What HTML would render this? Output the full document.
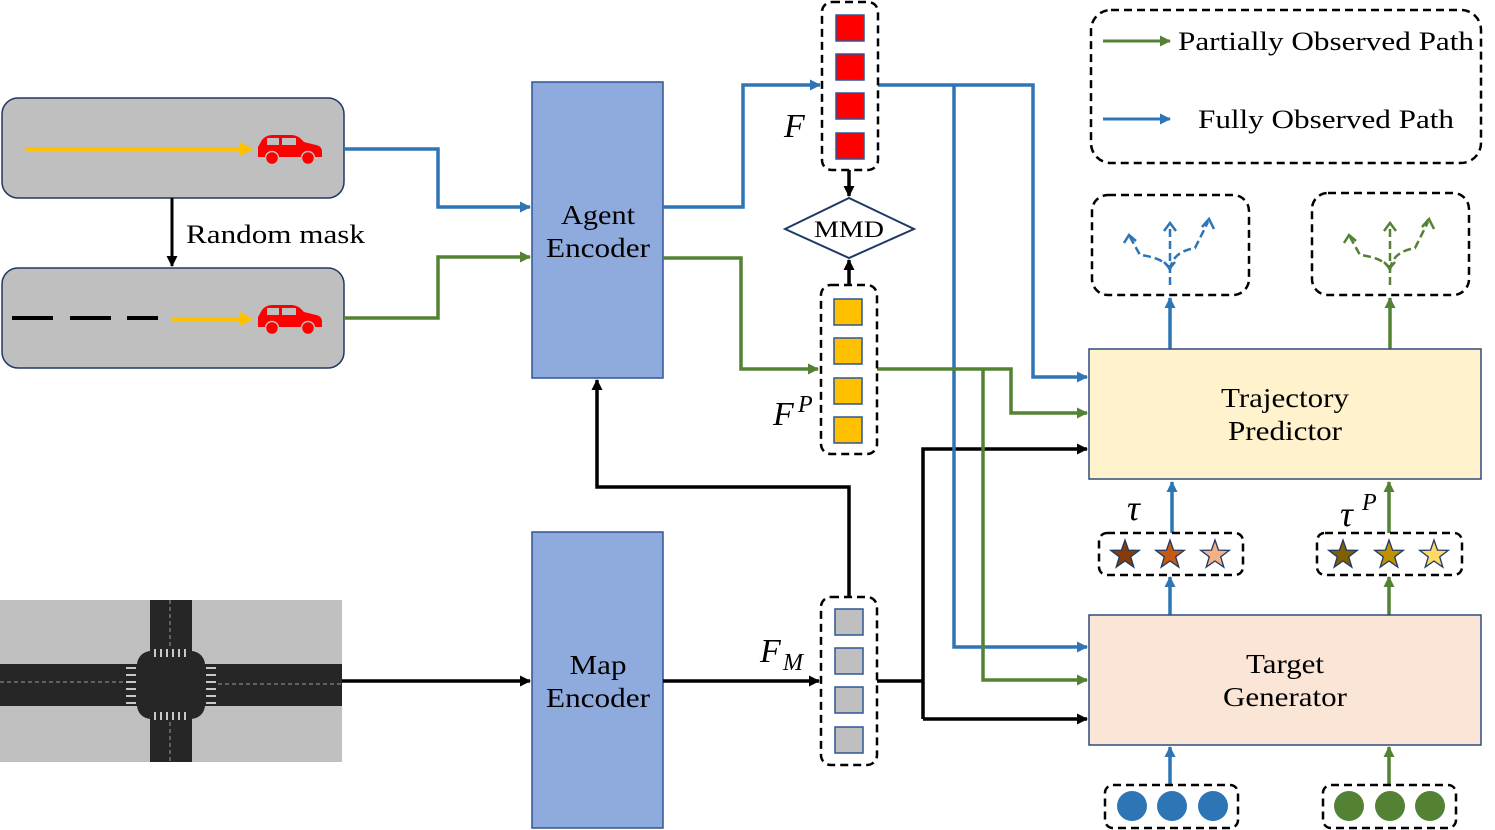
<!DOCTYPE html>
<html><head><meta charset="utf-8"><style>
html,body{margin:0;padding:0;background:#fff;}
svg{display:block;}
text{font-family:"Liberation Serif",serif;fill:#000;}
</style></head><body>
<svg width="1495" height="830" viewBox="0 0 1495 830" xmlns="http://www.w3.org/2000/svg">
<defs>
<marker id="ab" markerWidth="11" markerHeight="11" refX="10" refY="5.5" orient="auto" markerUnits="userSpaceOnUse"><path d="M0,0 L11,5.5 L0,11 z" fill="#2e75b6"/></marker>
<marker id="ag" markerWidth="11" markerHeight="11" refX="10" refY="5.5" orient="auto" markerUnits="userSpaceOnUse"><path d="M0,0 L11,5.5 L0,11 z" fill="#548235"/></marker>
<marker id="ak" markerWidth="11" markerHeight="11" refX="10" refY="5.5" orient="auto" markerUnits="userSpaceOnUse"><path d="M0,0 L11,5.5 L0,11 z" fill="#000"/></marker>
<marker id="ay" markerWidth="14" markerHeight="14" refX="12" refY="7" orient="auto" markerUnits="userSpaceOnUse"><path d="M0,0 L13,7 L0,14 z" fill="#ffc000"/></marker>
<polygon id="star" points="0,-15 3.53,-4.85 14.27,-4.64 5.71,1.85 8.82,12.14 0,6 -8.82,12.14 -5.71,1.85 -14.27,-4.64 -3.53,-4.85" stroke="#1f3864" stroke-width="1.3"/>
<g id="car" fill="#ff0000">
<path d="M0,12 L4,5 Q8,0 14,0 L34,0 Q40,0 46,7 L58,10 Q64,11 64,17 L64,22 L0,22 Z"/>
<rect x="9" y="3" width="12" height="7" fill="#bfbfbf"/>
<rect x="24" y="3" width="14" height="7" fill="#bfbfbf"/>
<circle cx="14" cy="23" r="6.5" stroke="#bfbfbf" stroke-width="1.5"/>
<circle cx="50" cy="23" r="6.5" stroke="#bfbfbf" stroke-width="1.5"/>
</g>
</defs>

<rect x="2" y="98" width="342" height="100" rx="16" fill="#bfbfbf" stroke="#1f3864" stroke-width="1.5"/>
<line x1="25" y1="149" x2="252" y2="149" stroke="#ffc000" stroke-width="4" marker-end="url(#ay)"/>
<use href="#car" x="258" y="135"/>
<line x1="172" y1="198" x2="172" y2="266" stroke="#000" stroke-width="3" marker-end="url(#ak)"/>
<text x="186" y="243" font-size="26" textLength="179" lengthAdjust="spacingAndGlyphs">Random mask</text>
<rect x="2" y="268" width="342" height="100" rx="16" fill="#bfbfbf" stroke="#1f3864" stroke-width="1.5"/>
<g stroke="#000" stroke-width="4"><line x1="12" y1="318" x2="53" y2="318"/><line x1="70" y1="318" x2="111" y2="318"/><line x1="127" y1="318" x2="158" y2="318"/></g>
<line x1="172" y1="319" x2="252" y2="319" stroke="#ffc000" stroke-width="4" marker-end="url(#ay)"/>
<use href="#car" x="258" y="305"/>

<rect x="0" y="600" width="342" height="162" fill="#c0c0c0"/>
<rect x="0" y="664" width="342" height="42" fill="#262626"/>
<rect x="150" y="600" width="42" height="162" fill="#262626"/>
<rect x="137" y="651" width="68" height="68" rx="14" fill="#262626"/>
<g stroke="#999" stroke-width="1" stroke-dasharray="4,3"><line x1="0" y1="682" x2="125" y2="682"/><line x1="218" y1="684" x2="342" y2="684"/><line x1="170" y1="600" x2="170" y2="648"/><line x1="170" y1="722" x2="170" y2="762"/></g>
<g stroke="#fff" stroke-width="1.5">
<line x1="155" y1="649" x2="155" y2="657"/><line x1="161" y1="649" x2="161" y2="657"/><line x1="167" y1="649" x2="167" y2="657"/><line x1="173" y1="649" x2="173" y2="657"/><line x1="179" y1="649" x2="179" y2="657"/><line x1="185" y1="649" x2="185" y2="657"/>
<line x1="155" y1="712" x2="155" y2="720"/><line x1="161" y1="712" x2="161" y2="720"/><line x1="167" y1="712" x2="167" y2="720"/><line x1="173" y1="712" x2="173" y2="720"/><line x1="179" y1="712" x2="179" y2="720"/><line x1="185" y1="712" x2="185" y2="720"/>
<line x1="126" y1="668" x2="136" y2="668"/><line x1="126" y1="675" x2="136" y2="675"/><line x1="126" y1="682" x2="136" y2="682"/><line x1="126" y1="689" x2="136" y2="689"/><line x1="126" y1="696" x2="136" y2="696"/><line x1="126" y1="703" x2="136" y2="703"/>
<line x1="206" y1="668" x2="216" y2="668"/><line x1="206" y1="675" x2="216" y2="675"/><line x1="206" y1="682" x2="216" y2="682"/><line x1="206" y1="689" x2="216" y2="689"/><line x1="206" y1="696" x2="216" y2="696"/><line x1="206" y1="703" x2="216" y2="703"/>
</g>

<rect x="532" y="82" width="131" height="296" fill="#8faadc" stroke="#2f5597" stroke-width="1.5"/>
<text x="598" y="224" font-size="27" text-anchor="middle" textLength="74" lengthAdjust="spacingAndGlyphs">Agent</text>
<text x="598" y="257" font-size="27" text-anchor="middle" textLength="104" lengthAdjust="spacingAndGlyphs">Encoder</text>
<rect x="532" y="532" width="131" height="296" fill="#8faadc" stroke="#2f5597" stroke-width="1.5"/>
<text x="598" y="674" font-size="27" text-anchor="middle" textLength="57" lengthAdjust="spacingAndGlyphs">Map</text>
<text x="598" y="707" font-size="27" text-anchor="middle" textLength="104" lengthAdjust="spacingAndGlyphs">Encoder</text>

<g fill="none" stroke-width="3.5">
<polyline points="344,149 438,149 438,207 530,207" stroke="#2e75b6" marker-end="url(#ab)"/>
<polyline points="344,318 438,318 438,257 530,257" stroke="#548235" marker-end="url(#ag)"/>
<polyline points="663,207 743,207 743,85 820,85" stroke="#2e75b6" marker-end="url(#ab)"/>
<polyline points="663,258 741,258 741,369 818,369" stroke="#548235" marker-end="url(#ag)"/>
<line x1="342" y1="681" x2="530" y2="681" stroke="#000" marker-end="url(#ak)"/>
<line x1="663" y1="681" x2="819" y2="681" stroke="#000" marker-end="url(#ak)"/>
<polyline points="849,597 849,487 597,487 597,380" stroke="#000" marker-end="url(#ak)"/>
<polyline points="877,681 923,681" stroke="#000"/>
<polyline points="923,719 923,449 1087,449" stroke="#000" marker-end="url(#ak)"/>
<polyline points="923,719 1087,719" stroke="#000" marker-end="url(#ak)"/>
<polyline points="878,85 1033,85 1033,377 1087,377" stroke="#2e75b6" marker-end="url(#ab)"/>
<polyline points="954,85 954,647 1087,647" stroke="#2e75b6" marker-end="url(#ab)"/>
<polyline points="877,369 1011,369 1011,413 1087,413" stroke="#548235" marker-end="url(#ag)"/>
<polyline points="983,369 983,680 1087,680" stroke="#548235" marker-end="url(#ag)"/>
<line x1="849" y1="170" x2="849" y2="196" stroke="#000" marker-end="url(#ak)"/>
<line x1="849" y1="285" x2="849" y2="260" stroke="#000" marker-end="url(#ak)"/>
<line x1="1170" y1="349" x2="1170" y2="298" stroke="#2e75b6" marker-end="url(#ab)"/>
<line x1="1390" y1="349" x2="1390" y2="298" stroke="#548235" marker-end="url(#ag)"/>
<line x1="1172" y1="533" x2="1172" y2="482" stroke="#2e75b6" marker-end="url(#ab)"/>
<line x1="1389" y1="533" x2="1389" y2="482" stroke="#548235" marker-end="url(#ag)"/>
<line x1="1170" y1="615" x2="1170" y2="577" stroke="#2e75b6" marker-end="url(#ab)"/>
<line x1="1389" y1="615" x2="1389" y2="577" stroke="#548235" marker-end="url(#ag)"/>
<line x1="1170" y1="785" x2="1170" y2="747" stroke="#2e75b6" marker-end="url(#ab)"/>
<line x1="1389" y1="785" x2="1389" y2="747" stroke="#548235" marker-end="url(#ag)"/>
</g>

<g fill="none" stroke="#000" stroke-width="2.5" stroke-dasharray="8,5">
<rect x="822" y="2" width="56" height="168" rx="10"/>
<rect x="821" y="285" width="56" height="169" rx="10"/>
<rect x="821" y="597" width="56" height="168" rx="10"/>
</g>
<g stroke="#2f5597" stroke-width="1.5">
<rect x="836" y="15" width="28" height="26" fill="#ff0000"/><rect x="836" y="54" width="28" height="26" fill="#ff0000"/><rect x="836" y="93" width="28" height="26" fill="#ff0000"/><rect x="836" y="133" width="28" height="26" fill="#ff0000"/>
<rect x="834" y="299" width="28" height="26" fill="#ffc000"/><rect x="834" y="338" width="28" height="26" fill="#ffc000"/><rect x="834" y="378" width="28" height="26" fill="#ffc000"/><rect x="834" y="417" width="28" height="26" fill="#ffc000"/>
<rect x="835" y="609" width="28" height="26" fill="#bfbfbf"/><rect x="835" y="648" width="28" height="26" fill="#bfbfbf"/><rect x="835" y="687" width="28" height="26" fill="#bfbfbf"/><rect x="835" y="727" width="28" height="26" fill="#bfbfbf"/>
</g>
<polygon points="785,229 849,198 914,229 849,258" fill="#fff" stroke="#1f3864" stroke-width="2"/>
<text x="849" y="237" font-size="23" text-anchor="middle" textLength="70" lengthAdjust="spacingAndGlyphs">MMD</text>
<text x="784" y="137" font-size="34" font-style="italic">F</text>
<text x="773" y="425" font-size="34" font-style="italic">F</text><text x="798" y="412" font-size="24" font-style="italic">P</text>
<text x="760" y="662" font-size="34" font-style="italic">F</text><text x="783" y="670" font-size="24" font-style="italic">M</text>

<rect x="1091" y="10" width="390" height="153" rx="20" fill="none" stroke="#000" stroke-width="2.5" stroke-dasharray="8,5"/>
<line x1="1103" y1="41" x2="1170" y2="41" stroke="#548235" stroke-width="3" marker-end="url(#ag)"/>
<text x="1178" y="50" font-size="26" textLength="296" lengthAdjust="spacingAndGlyphs">Partially Observed Path</text>
<line x1="1103" y1="119" x2="1170" y2="119" stroke="#2e75b6" stroke-width="3" marker-end="url(#ab)"/>
<text x="1198" y="128" font-size="26" textLength="256" lengthAdjust="spacingAndGlyphs">Fully Observed Path</text>

<g fill="none" stroke="#000" stroke-width="2.5" stroke-dasharray="8,5">
<rect x="1092" y="195" width="157" height="100" rx="16"/>
<rect x="1312" y="193" width="157" height="102" rx="16"/>
<rect x="1099" y="533" width="144" height="42" rx="8"/>
<rect x="1317" y="533" width="145" height="42" rx="8"/>
<rect x="1105" y="785" width="133" height="43" rx="8"/>
<rect x="1323" y="785" width="133" height="43" rx="8"/>
</g>
<g fill="none" stroke="#2e75b6" stroke-width="2.5" stroke-dasharray="8,4">
<path d="M1170,285 L1170,225"/><path d="M1170,270 Q1165,258 1140,255 L1130,237"/><path d="M1170,270 Q1172,252 1195,248 L1208,222"/>
</g>
<g fill="none" stroke="#2e75b6" stroke-width="2.5"><path d="M1164,231 L1170,223 L1176,231"/><path d="M1124,243 L1129,235 L1136,241"/><path d="M1202,227 L1209,219 L1214,229"/><path d="M1164,262 L1170,268 L1175,262"/></g>
<g fill="none" stroke="#548235" stroke-width="2.5" stroke-dasharray="8,4">
<path d="M1390,285 L1390,225"/><path d="M1390,270 Q1385,258 1360,255 L1350,237"/><path d="M1390,270 Q1392,252 1415,248 L1428,222"/>
</g>
<g fill="none" stroke="#548235" stroke-width="2.5"><path d="M1384,231 L1390,223 L1396,231"/><path d="M1344,243 L1349,235 L1356,241"/><path d="M1422,227 L1429,219 L1434,229"/><path d="M1384,262 L1390,268 L1395,262"/></g>

<rect x="1089" y="349" width="392" height="130" fill="#fff2cc" stroke="#2f4b7a" stroke-width="1.5"/>
<text x="1285" y="407" font-size="27" text-anchor="middle" textLength="128" lengthAdjust="spacingAndGlyphs">Trajectory</text>
<text x="1285" y="440" font-size="27" text-anchor="middle" textLength="114" lengthAdjust="spacingAndGlyphs">Predictor</text>
<rect x="1089" y="615" width="392" height="130" fill="#fbe5d6" stroke="#2f4b7a" stroke-width="1.5"/>
<text x="1285" y="673" font-size="27" text-anchor="middle" textLength="78" lengthAdjust="spacingAndGlyphs">Target</text>
<text x="1285" y="706" font-size="27" text-anchor="middle" textLength="124" lengthAdjust="spacingAndGlyphs">Generator</text>

<text x="1127" y="520" font-size="36" font-style="italic">τ</text>
<text x="1340" y="526" font-size="36" font-style="italic">τ</text><text x="1362" y="510" font-size="24" font-style="italic">P</text>
<use href="#star" x="1125" y="555" fill="#843c0c"/>
<use href="#star" x="1170" y="555" fill="#c55a11"/>
<use href="#star" x="1215" y="555" fill="#f4b183"/>
<use href="#star" x="1343" y="555" fill="#7f6000"/>
<use href="#star" x="1389" y="555" fill="#bf9000"/>
<use href="#star" x="1434" y="555" fill="#ffd966"/>
<g fill="#2e75b6"><circle cx="1132" cy="806" r="15"/><circle cx="1172" cy="806" r="15"/><circle cx="1213" cy="806" r="15"/></g>
<g fill="#548235"><circle cx="1349" cy="806" r="15"/><circle cx="1390" cy="806" r="15"/><circle cx="1430" cy="806" r="15"/></g>
</svg>
</body></html>
